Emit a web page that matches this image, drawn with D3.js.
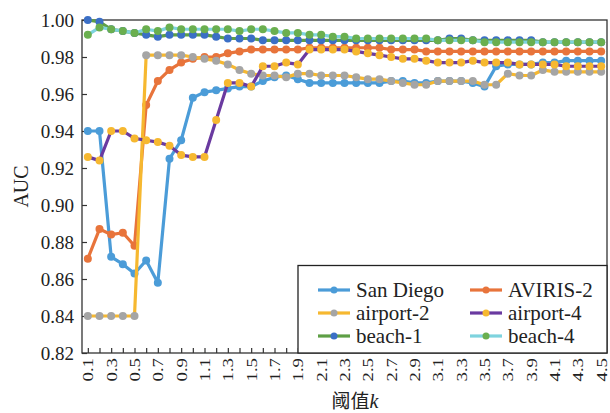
<!DOCTYPE html>
<html><head><meta charset="utf-8">
<script src="https://cdn.jsdelivr.net/npm/d3@7"></script>
<style>
body{margin:0;background:#fff;}
svg{display:block;}
</style></head>
<body><svg id="chart" width="610" height="413" font-family="Liberation Serif"></svg>
<script>
const thresholds = ["0.1","0.2","0.3","0.4","0.5","0.6","0.7","0.8","0.9","1.0","1.1","1.2","1.3","1.4","1.5","1.6","1.7","1.8","1.9","2.0","2.1","2.2","2.3","2.4","2.5","2.6","2.7","2.8","2.9","3.0","3.1","3.2","3.3","3.4","3.5","3.6","3.7","3.8","3.9","4.0","4.1","4.2","4.3","4.4","4.5"];
const xTickLabels = ["0.1","0.3","0.5","0.7","0.9","1.1","1.3","1.5","1.7","1.9","2.1","2.3","2.5","2.7","2.9","3.1","3.3","3.5","3.7","3.9","4.1","4.3","4.5"];
const yTicks = [0.82,0.84,0.86,0.88,0.90,0.92,0.94,0.96,0.98,1.00];

const sanDiego = [0.940,0.940,0.872,0.868,0.863,0.870,0.858,0.925,0.935,0.958,0.961,0.962,0.963,0.964,0.964,0.967,0.969,0.970,0.968,0.966,0.966,0.966,0.966,0.966,0.966,0.966,0.967,0.967,0.966,0.966,0.967,0.967,0.967,0.966,0.964,0.975,0.976,0.976,0.976,0.977,0.977,0.978,0.978,0.978,0.978];
const aviris2 = [0.871,0.887,0.884,0.885,0.878,0.954,0.967,0.973,0.977,0.979,0.980,0.980,0.982,0.983,0.984,0.984,0.984,0.984,0.984,0.985,0.985,0.985,0.985,0.985,0.985,0.985,0.984,0.984,0.984,0.983,0.983,0.983,0.983,0.983,0.983,0.983,0.983,0.983,0.983,0.983,0.983,0.983,0.983,0.983,0.983];
const airport2 = [0.840,0.840,0.840,0.840,0.840,0.981,0.981,0.981,0.981,0.980,0.979,0.978,0.976,0.973,0.971,0.970,0.970,0.969,0.971,0.971,0.970,0.970,0.970,0.969,0.968,0.968,0.967,0.966,0.965,0.965,0.967,0.967,0.967,0.967,0.965,0.965,0.971,0.970,0.970,0.973,0.972,0.972,0.972,0.972,0.972];
const airport4 = [0.926,0.924,0.940,0.940,0.936,0.935,0.934,0.932,0.927,0.926,0.926,0.946,0.966,0.966,0.964,0.975,0.975,0.977,0.976,0.984,0.984,0.984,0.984,0.983,0.982,0.981,0.980,0.979,0.979,0.978,0.977,0.977,0.977,0.978,0.977,0.977,0.977,0.976,0.976,0.976,0.976,0.975,0.975,0.975,0.975];
const beach1 = [1.000,0.999,0.995,0.994,0.993,0.992,0.991,0.992,0.992,0.992,0.992,0.991,0.990,0.990,0.990,0.989,0.989,0.989,0.989,0.989,0.989,0.989,0.989,0.989,0.989,0.989,0.989,0.989,0.989,0.989,0.989,0.990,0.990,0.989,0.989,0.989,0.989,0.989,0.989,0.988,0.988,0.988,0.988,0.988,0.988];
const beach4 = [0.992,0.996,0.995,0.994,0.993,0.995,0.994,0.996,0.995,0.995,0.995,0.995,0.995,0.994,0.995,0.995,0.994,0.993,0.993,0.992,0.992,0.991,0.991,0.990,0.990,0.990,0.990,0.990,0.990,0.990,0.989,0.989,0.989,0.989,0.988,0.988,0.988,0.988,0.988,0.988,0.988,0.988,0.988,0.988,0.988];

const seriesNames = ["San Diego","AVIRIS-2","airport-2","airport-4","beach-1","beach-4"];
const seriesValues = [sanDiego, aviris2, airport2, airport4, beach1, beach4];
const lineColors = ["#4b9cd8","#e8743b","#f6b830","#6a3aa0","#5e9f45","#7ed3de"];
const markerColors = ["#4b9cd8","#e8743b","#a5a5a5","#f6b830","#3b6fc6","#6aaf4f"];

const svg = d3.select("#chart");
const L = 82, R = 607, T = 20, B = 353;

const x = d3.scalePoint().domain(thresholds).range([L, R]).padding(0.5);
const y = d3.scaleLinear().domain([0.82, 1.00]).range([B, T]);

// frame
svg.append("rect").attr("x", L).attr("y", T).attr("width", R - L).attr("height", B - T)
  .attr("fill", "none").attr("stroke", "#333").attr("stroke-width", 1.3);

// y axis
const yAxis = d3.axisLeft(y).tickValues(yTicks).tickFormat(d3.format(".2f")).tickSizeInner(-5).tickSizeOuter(0).tickPadding(8);
const gy = svg.append("g").attr("transform", `translate(${L},0)`).call(yAxis).attr("font-family", "Liberation Serif").attr("font-size", 19);
gy.select(".domain").remove();
gy.selectAll(".tick line").attr("stroke", "#333").attr("stroke-width", 1.2);
gy.selectAll(".tick text").attr("fill", "#222");

// x axis
const xAxis = d3.axisBottom(x).tickSizeInner(-5).tickSizeOuter(0).tickFormat(d => xTickLabels.includes(d) ? d : "");
const gx = svg.append("g").attr("transform", `translate(0,${B})`).call(xAxis).attr("font-family", "Liberation Serif").attr("font-size", 15);
gx.select(".domain").remove();
gx.selectAll(".tick line").attr("stroke", "#333").attr("stroke-width", 1.2);
gx.selectAll(".tick text")
  .attr("fill", "#222")
  .attr("text-anchor", "end").attr("dominant-baseline", "central")
  .attr("y", 0).attr("dy", 0)
  .attr("transform", "translate(0,5) rotate(-90) scale(1.25,1)");

// axis titles
svg.append("text").attr("transform", `translate(28,${(T + B) / 2}) rotate(-90)`)
  .attr("text-anchor", "middle").attr("font-size", 20).attr("fill", "#222").text("AUC");
const xt = svg.append("text").attr("x", 355).attr("y", 408).attr("text-anchor", "middle")
  .attr("font-size", 20).attr("fill", "#222");
xt.append("tspan").attr("font-family", "Noto Sans CJK SC").attr("font-size", 19).text("阈值");
xt.append("tspan").attr("font-style", "italic").text("k");

// series
const line = d3.line().x((d, i) => x(thresholds[i])).y(d => y(d));
seriesValues.forEach((vals, s) => {
  const g = svg.append("g");
  g.append("path").datum(vals).attr("d", line).attr("fill", "none")
    .attr("stroke", lineColors[s]).attr("stroke-width", 3.2).attr("stroke-linejoin", "round");
  g.selectAll("circle").data(vals).join("circle")
    .attr("cx", (d, i) => x(thresholds[i])).attr("cy", d => y(d)).attr("r", 4)
    .attr("fill", markerColors[s]);
});

// legend
const lg = svg.append("g").attr("font-family", "Liberation Serif");
lg.append("rect").attr("x", 298).attr("y", 265.5).attr("width", R - 298).attr("height", B - 265.5)
  .attr("fill", "#fff").attr("stroke", "#222").attr("stroke-width", 1.3);
seriesNames.forEach((name, s) => {
  const col = s % 2, row = Math.floor(s / 2);
  const lx = col === 0 ? 318 : 470;
  const ly = 290 + row * 23;
  lg.append("line").attr("x1", lx).attr("x2", lx + 32).attr("y1", ly).attr("y2", ly)
    .attr("stroke", lineColors[s]).attr("stroke-width", 3.2);
  lg.append("circle").attr("cx", lx + 16).attr("cy", ly).attr("r", 3.5).attr("fill", markerColors[s]);
  lg.append("text").attr("x", lx + 38).attr("y", ly + 7).attr("font-size", 21).attr("fill", "#222").text(name);
});
</script></body></html>
